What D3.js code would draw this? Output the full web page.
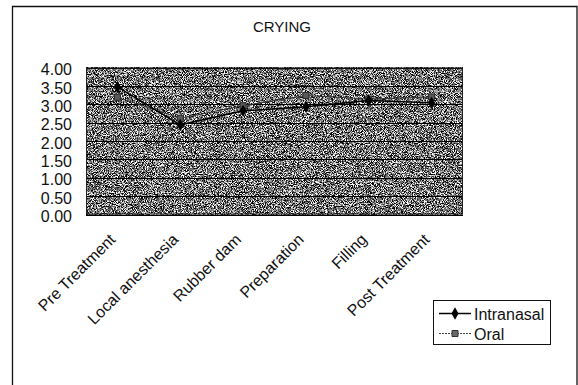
<!DOCTYPE html>
<html>
<head>
<meta charset="utf-8">
<script src="https://cdn.jsdelivr.net/npm/d3@7/dist/d3.min.js"></script>
<style>
  html, body { margin: 0; padding: 0; background: #fff; }
  svg { display: block; font-family: "Liberation Sans", Arial, sans-serif; }
</style>
</head>
<body>
<svg id="chart" width="578" height="385"></svg>
<script>
// Crying scores per treatment phase, two sedation routes
const categories = ["Pre Treatment", "Local anesthesia", "Rubber dam", "Preparation", "Filling", "Post Treatment"];
const intranasal = [3.47, 2.44, 2.82, 2.93, 3.10, 3.04];
const oral = [3.19, 2.62, 2.96, 3.24, 3.14, 3.20];
const yTicks = [0, 0.5, 1, 1.5, 2, 2.5, 3, 3.5, 4];
const seriesNames = ["Intranasal", "Oral"];
const title = "CRYING";

const svg = d3.select("#chart");
const W = 578, H = 385;
const plot = { left: 86, right: 463, top: 67.5, bottom: 214.5 };

svg.append("rect").attr("width", W).attr("height", H).attr("fill", "#fff");

// Speckled grey fill of the plot area
const defs = svg.append("defs");
const f = defs.append("filter").attr("id", "speckle")
  .attr("x", 0).attr("y", 0).attr("width", "100%").attr("height", "100%")
  .attr("color-interpolation-filters", "sRGB");
f.append("feTurbulence").attr("type", "fractalNoise").attr("baseFrequency", 1.1)
  .attr("numOctaves", 2).attr("seed", 7).attr("result", "t");
f.append("feColorMatrix").attr("in", "t").attr("type", "matrix")
  .attr("values", "3.5 0 0 0 -1.3  3.5 0 0 0 -1.3  3.5 0 0 0 -1.3  0 0 0 0 1");

// Chart frame (open at the bottom)
svg.append("path")
  .attr("d", `M12.5,${H} V6.5 H577 V${H}`)
  .attr("fill", "none").attr("stroke", "#111").attr("stroke-width", 1.3);

const x = d3.scalePoint().domain(categories).range([plot.left, plot.right]).padding(0.5);
const y = d3.scaleLinear().domain([0, 4]).range([plot.bottom, plot.top]);

svg.append("rect")
  .attr("x", plot.left).attr("y", plot.top)
  .attr("width", plot.right - plot.left).attr("height", plot.bottom - plot.top)
  .attr("fill", "#6b6b6b").attr("filter", "url(#speckle)");

// Gridlines
svg.append("g").selectAll("line").data(yTicks).join("line")
  .attr("x1", plot.left).attr("x2", plot.right)
  .attr("y1", d => Math.round(y(d)) + 0.5).attr("y2", d => Math.round(y(d)) + 0.5)
  .attr("stroke", "#000").attr("stroke-width", 1);

svg.append("rect")
  .attr("x", plot.left + 0.5).attr("y", plot.top + 0.5)
  .attr("width", plot.right - plot.left - 1).attr("height", plot.bottom - plot.top - 1)
  .attr("fill", "none").attr("stroke", "#222").attr("stroke-width", 1);

// Y axis labels
const yAxis = svg.append("g")
  .attr("transform", `translate(${plot.left},2)`)
  .call(d3.axisLeft(y).tickValues(yTicks).tickSize(0).tickPadding(14).tickFormat(d3.format(".2f")));
yAxis.select(".domain").remove();
yAxis.selectAll("text").attr("font-size", 16).attr("fill", "#111")
  .attr("font-family", "Liberation Sans, Arial, sans-serif");

// Category labels, rotated
svg.append("g").selectAll("text").data(categories).join("text")
  .attr("transform", d => `translate(${x(d) - 1},${plot.bottom + 26}) rotate(-45)`)
  .attr("text-anchor", "end")
  .attr("font-size", 16).attr("fill", "#111")
  .text(d => d);

// Title
svg.append("text")
  .attr("x", 282).attr("y", 32)
  .attr("text-anchor", "middle").attr("font-size", 15).attr("fill", "#111")
  .text(title);

const line = d3.line().x((d, i) => x(categories[i])).y(d => y(d));
const diamond = d3.symbol().type(d3.symbolDiamond).size(44);
const square = d3.symbol().type(d3.symbolSquare).size(36);

// Oral series
svg.append("path").datum(oral).attr("d", line)
  .attr("fill", "none").attr("stroke", "#333").attr("stroke-width", 1);
svg.append("g").selectAll("path").data(oral).join("path")
  .attr("transform", (d, i) => `translate(${x(categories[i])},${y(d)})`)
  .attr("d", square).attr("fill", "#5a5a5a").attr("stroke", "#2a2a2a").attr("stroke-width", 1);

// Intranasal series
svg.append("path").datum(intranasal).attr("d", line)
  .attr("fill", "none").attr("stroke", "#000").attr("stroke-width", 1.5);
svg.append("g").selectAll("path").data(intranasal).join("path")
  .attr("transform", (d, i) => `translate(${x(categories[i])},${y(d)})`)
  .attr("d", diamond).attr("fill", "#000");

// Legend
const lg = svg.append("g");
lg.append("rect").attr("x", 433.5).attr("y", 300.5).attr("width", 117).attr("height", 44)
  .attr("fill", "#fff").attr("stroke", "#111").attr("stroke-width", 1);
const rows = [
  { name: seriesNames[0], y: 313.5, stroke: "#000", sw: 1.5, dash: null, sym: diamond, fill: "#000", mstroke: "none" },
  { name: seriesNames[1], y: 333.5, stroke: "#444", sw: 1, dash: "2,1", sym: square, fill: "#6a6a6a", mstroke: "#333" }
];
rows.forEach(r => {
  lg.append("line").attr("x1", 439).attr("x2", 471).attr("y1", r.y).attr("y2", r.y)
    .attr("stroke", r.stroke).attr("stroke-width", r.sw).attr("stroke-dasharray", r.dash);
  lg.append("path").attr("transform", `translate(455,${r.y})`).attr("d", r.sym)
    .attr("fill", r.fill).attr("stroke", r.mstroke);
  lg.append("text").attr("x", 474).attr("y", r.y + 6).attr("font-size", 16).attr("fill", "#111").text(r.name);
});
</script>
</body>
</html>
